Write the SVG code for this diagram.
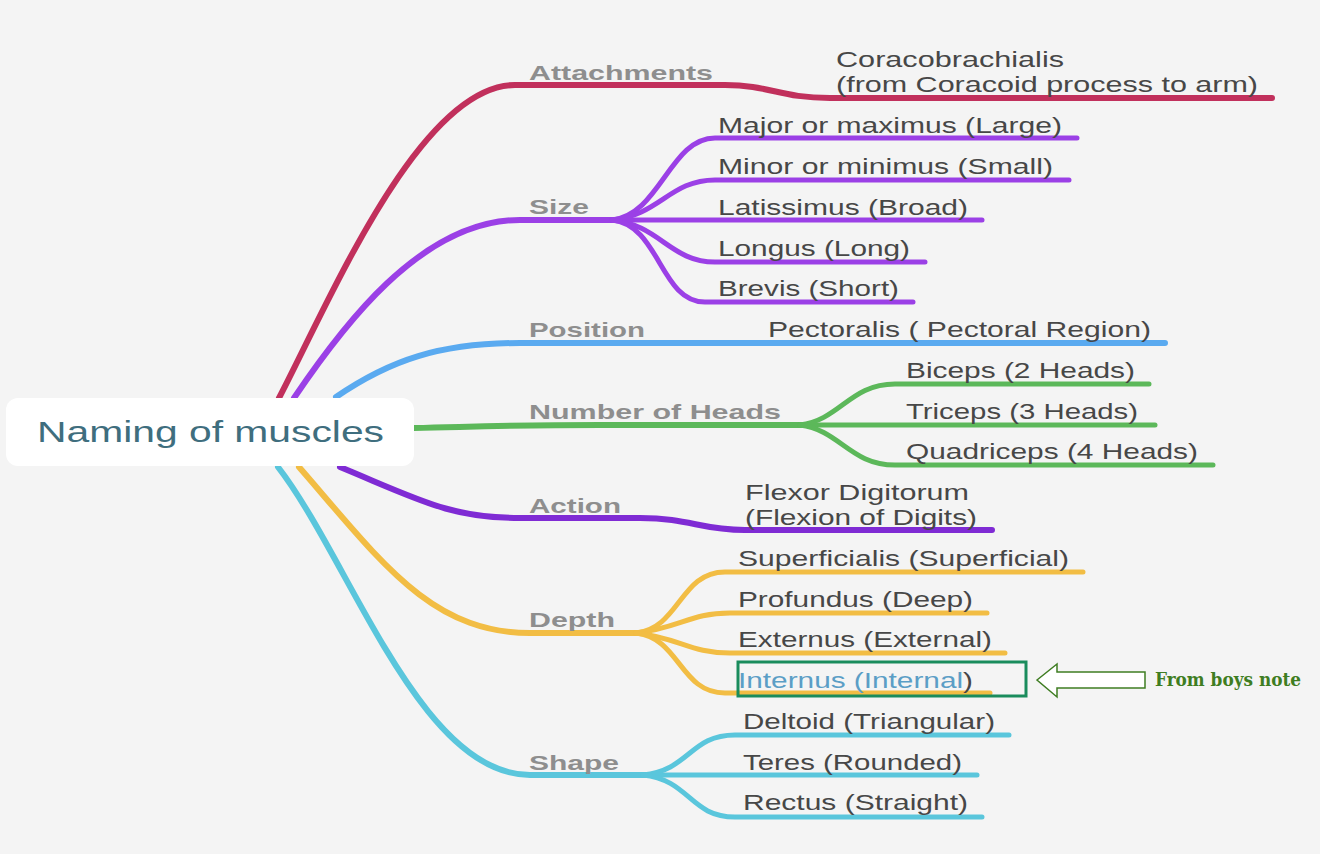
<svg xmlns="http://www.w3.org/2000/svg" width="1320" height="854" viewBox="0 0 1320 854">
<style>
.bg{fill:#f4f4f4}
.br{fill:none;stroke-linecap:round;stroke-linejoin:round}
.m{stroke-width:6}
.c{stroke-width:5}
.lbl{font-family:"Liberation Sans",Arial,sans-serif;font-weight:bold;font-size:21px;fill:#8e8e8e}
.t{font-family:"Liberation Sans",Arial,sans-serif;font-size:22px;fill:#474747}
.att{stroke:#c1305c}.siz{stroke:#9b40e6}.pos{stroke:#5aaaf0}.hd{stroke:#5cb85a}.act{stroke:#7f2bd4}.dep{stroke:#f2bd44}.shp{stroke:#5ac6dc}
</style>
<rect class="bg" x="0" y="0" width="1320" height="854"/>
<g id="connectors">
<path class="br m att" d="M279,398 C330,300 420,85 515,85 L725,85 C770,85 780,98 830,98 L1272,98"/>
<path class="br m siz" d="M294,398 C340,330 420,220 520,220 L614,220"/>
<path class="br c siz" d="M612,220 C660,215 670,138 715,138 L1077,138"/>
<path class="br c siz" d="M612,220 C660,215 670,180 715,180 L1069,180"/>
<path class="br c siz" d="M612,220 L982,220"/>
<path class="br c siz" d="M612,220 C660,225 670,262 715,262 L925,262"/>
<path class="br c siz" d="M612,220 C660,225 660,302 705,302 L913,302"/>
<path class="br m pos" d="M336,397 C390,360 440,343 520,343 L1165,343"/>
<path class="br m hd" d="M414,428 C500,426 520,425 600,425 L805,425"/>
<path class="br c hd" d="M800,425 C840,420 850,384 895,384 L1149,384"/>
<path class="br c hd" d="M800,425 L1155,425"/>
<path class="br c hd" d="M800,425 C840,430 850,465 895,465 L1213,465"/>
<path class="br m act" d="M340,467 C420,500 450,518 520,518 L640,518 C690,518 700,530 745,530 L992,530"/>
<path class="br m dep" d="M299,467 C380,560 430,633 530,633 L638,633"/>
<path class="br c dep" d="M636,633 C680,628 680,572 725,572 L1083,572"/>
<path class="br c dep" d="M636,633 C680,628 690,613 730,613 L987,613"/>
<path class="br c dep" d="M636,633 C680,638 690,653 730,653 L1005,653"/>
<path class="br c dep" d="M636,633 C680,638 680,693 725,693 L990,693"/>
<path class="br m shp" d="M278,467 C350,560 420,775 530,775 L645,775"/>
<path class="br c shp" d="M643,775 C690,770 690,735 735,735 L1009,735"/>
<path class="br c shp" d="M643,775 L977,775"/>
<path class="br c shp" d="M643,775 C690,780 690,817 735,817 L982,817"/>
</g>
<g id="root">
<rect x="6" y="398" width="408" height="68" rx="12" fill="#ffffff"/>
<text x="37" y="442" font-family="Liberation Sans,Arial,sans-serif" font-size="30" fill="#3f6e7e" textLength="347" lengthAdjust="spacingAndGlyphs">Naming of muscles</text>
</g>
<g id="attachments">
<text class="lbl" x="529" y="80" textLength="184" lengthAdjust="spacingAndGlyphs">Attachments</text>
<text class="t" x="836" y="67" textLength="228" lengthAdjust="spacingAndGlyphs">Coracobrachialis</text>
<text class="t" x="836" y="92" textLength="422" lengthAdjust="spacingAndGlyphs">(from Coracoid process to arm)</text>
</g>
<g id="size">
<text class="lbl" x="529" y="214" textLength="60" lengthAdjust="spacingAndGlyphs">Size</text>
<text class="t" x="718" y="133" textLength="344" lengthAdjust="spacingAndGlyphs">Major or maximus (Large)</text>
<text class="t" x="718" y="174" textLength="335" lengthAdjust="spacingAndGlyphs">Minor or minimus (Small)</text>
<text class="t" x="718" y="215" textLength="250" lengthAdjust="spacingAndGlyphs">Latissimus (Broad)</text>
<text class="t" x="718" y="256" textLength="192" lengthAdjust="spacingAndGlyphs">Longus (Long)</text>
<text class="t" x="718" y="296" textLength="181" lengthAdjust="spacingAndGlyphs">Brevis (Short)</text>
</g>
<g id="position">
<text class="lbl" x="529" y="337" textLength="116" lengthAdjust="spacingAndGlyphs">Position</text>
<text class="t" x="768" y="337" textLength="383" lengthAdjust="spacingAndGlyphs">Pectoralis ( Pectoral Region)</text>
</g>
<g id="heads">
<text class="lbl" x="529" y="419" textLength="252" lengthAdjust="spacingAndGlyphs">Number of Heads</text>
<text class="t" x="906" y="378" textLength="229" lengthAdjust="spacingAndGlyphs">Biceps (2 Heads)</text>
<text class="t" x="906" y="419" textLength="232" lengthAdjust="spacingAndGlyphs">Triceps (3 Heads)</text>
<text class="t" x="906" y="459" textLength="292" lengthAdjust="spacingAndGlyphs">Quadriceps (4 Heads)</text>
</g>
<g id="action">
<text class="lbl" x="529" y="513" textLength="92" lengthAdjust="spacingAndGlyphs">Action</text>
<text class="t" x="745" y="500" textLength="224" lengthAdjust="spacingAndGlyphs">Flexor Digitorum</text>
<text class="t" x="745" y="525" textLength="232" lengthAdjust="spacingAndGlyphs">(Flexion of Digits)</text>
</g>
<g id="depth">
<text class="lbl" x="529" y="627" textLength="86" lengthAdjust="spacingAndGlyphs">Depth</text>
<text class="t" x="738" y="566" textLength="331" lengthAdjust="spacingAndGlyphs">Superficialis (Superficial)</text>
<text class="t" x="738" y="607" textLength="235" lengthAdjust="spacingAndGlyphs">Profundus (Deep)</text>
<text class="t" x="738" y="647" textLength="254" lengthAdjust="spacingAndGlyphs">Externus (External)</text>
<text class="t" x="738" y="688" textLength="235" lengthAdjust="spacingAndGlyphs"><tspan fill="#5b9ec6">Internus (Internal</tspan>)</text>
</g>
<g id="shape">
<text class="lbl" x="529" y="770" textLength="90" lengthAdjust="spacingAndGlyphs">Shape</text>
<text class="t" x="743" y="729" textLength="252" lengthAdjust="spacingAndGlyphs">Deltoid (Triangular)</text>
<text class="t" x="743" y="770" textLength="219" lengthAdjust="spacingAndGlyphs">Teres (Rounded)</text>
<text class="t" x="743" y="810" textLength="225" lengthAdjust="spacingAndGlyphs">Rectus (Straight)</text>
</g>
<g id="annotation">
<rect x="738" y="662" width="288" height="34" fill="none" stroke="#1a8c5c" stroke-width="3"/>
<path d="M1037,680 L1057,664 L1057,672 L1145,672 L1145,688 L1057,688 L1057,697 Z" fill="#ffffff" stroke="#3f7d22" stroke-width="1.5" stroke-linejoin="miter"/>
<text x="1155" y="686" font-family="DejaVu Serif Condensed,DejaVu Serif,serif" font-weight="bold" font-size="19" fill="#3f7d22" textLength="146" lengthAdjust="spacingAndGlyphs">From boys note</text>
</g>
</svg>
